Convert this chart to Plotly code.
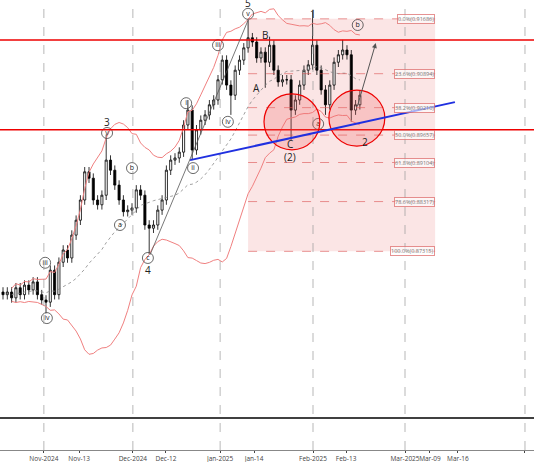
import plotly.graph_objects as go
import pandas as pd

closes = [0.8650,0.8655,0.8644,0.8663,0.8650,0.8668,0.8659,0.8674,0.8650,0.8640,
          0.8636,0.8696,0.8650,0.8711,0.8734,0.8719,0.8762,0.8790,0.8828,0.8881,
          0.8869,0.8828,0.8819,0.8837,0.8903,0.8884,0.8856,0.8828,0.8806,0.8809,
          0.8813,0.8847,0.8837,0.8781,0.8775,0.8781,0.8809,0.8828,0.8884,0.8903,
          0.8907,0.8918,0.8969,0.8997,0.8922,0.8960,0.8978,0.8988,0.9007,0.9016,
          0.9054,0.9091,0.9044,0.9025,0.9072,0.9091,0.9114,0.9133,0.9125,0.9095,
          0.9106,0.9087,0.9119,0.9072,0.9050,0.9054,0.9054,0.8997,0.9016,0.9044,
          0.9072,0.9082,0.9119,0.9072,0.9035,0.9007,0.9044,0.9087,0.9101,0.9110,
          0.9101,0.8997,0.9007,0.9025]
open0 = 0.8655
high_over = {24:0.8951, 43:0.9016, 57:0.9167, 72:0.9182, 62:0.9135, 79:0.9129}
low_over = {10:0.8615, 34:0.8726, 44:0.8903, 53:0.8988, 61:0.9039, 67:0.8941, 75:0.8988, 81:0.8975}
wick = 0.0009

tick_pos = [9.5,17.7,30.2,37.9,50.5,58.4,72.1,79.8,93.5,99.3,105.8,121.4]
tick_txt = ["Nov-2024","Nov-13","Dec-2024","Dec-12","Jan-2025","Jan-14","Feb-2025","Feb-13",
            "Mar-2025","Mar-09","Mar-16","Apr-2025"]
month_pos = [9.5,30.2,50.5,72.1,93.5,121.4]

fib_pct = [0.0,23.6,38.2,50.0,61.8,78.6,100.0]
fib_lbl = ["0.91686","0.90894","0.90210","0.89657","0.89104","0.88317","0.87315"]
fib_top, fib_bot = 0.91686, 0.87315
red_levels = [0.9129, 0.8960]
black_level = 0.8418

n = len(closes)
x = list(range(n))
opens = [open0] + closes[:-1]
highs = [high_over.get(i) or max(o, c) + wick for i, (o, c) in enumerate(zip(opens, closes))]
lows = [low_over.get(i, min(o, c) - wick) for i, (o, c) in enumerate(zip(opens, closes))]

s = pd.Series(closes)
mid = s.rolling(20, min_periods=3).mean()
sd = s.rolling(20, min_periods=3).std()
up = mid + 2.2 * sd
lo = mid - 2.2 * sd

fig = go.Figure()
fig.add_shape(type="rect", x0=57, x1=100.5, y0=fib_bot, y1=fib_top,
              fillcolor="rgba(240,150,150,0.25)", line_width=0, layer="below")
for p, l in zip(fib_pct, fib_lbl):
    yv = fib_top - (fib_top - fib_bot) * p / 100
    fig.add_shape(type="line", x0=57, x1=100.5, y0=yv, y1=yv,
                  line=dict(color="rgba(220,80,80,0.6)", width=1, dash="dash"))
    fig.add_annotation(x=100.5, y=yv, text=f"{p:.1f}%({l})", showarrow=False, xanchor="right",
                       font=dict(size=5.5, color="#777"), bordercolor="rgba(220,100,100,0.7)",
                       borderwidth=1, borderpad=0, bgcolor="rgba(255,255,255,0.6)")

fig.add_trace(go.Scatter(x=x, y=up, mode="lines", line=dict(color="#f08080", width=1), hoverinfo="skip"))
fig.add_trace(go.Scatter(x=x, y=lo, mode="lines", line=dict(color="#f08080", width=1), hoverinfo="skip"))
fig.add_trace(go.Scatter(x=x, y=mid, mode="lines", line=dict(color="#888", width=0.8, dash="dot"), hoverinfo="skip"))
fig.add_trace(go.Candlestick(x=x, open=opens, high=highs, low=lows, close=closes,
                             increasing=dict(fillcolor="white", line=dict(color="black", width=0.8)),
                             decreasing=dict(fillcolor="black", line=dict(color="black", width=0.8)),
                             whiskerwidth=0))

for r in red_levels:
    fig.add_shape(type="line", xref="paper", x0=0, x1=1, y0=r, y1=r, line=dict(color="#e00", width=1.5))
fig.add_shape(type="line", xref="paper", x0=0, x1=1, y0=black_level, y1=black_level, line=dict(color="black", width=1.5))
for mp in month_pos:
    fig.add_shape(type="line", x0=mp, x1=mp, yref="paper", y0=0, y1=1, line=dict(color="#999", width=0.7, dash="dash"))
for cx, cy in [(67.2, 0.8975), (82.3, 0.8982)]:
    fig.add_shape(type="circle", x0=cx-6.5, x1=cx+6.5, y0=cy-0.00526, y1=cy+0.00526,
                  line=dict(color="#e00", width=1.2), fillcolor="rgba(240,100,100,0.25)")
fig.add_shape(type="line", x0=43.5, x1=105.1, y0=0.8903, y1=0.9012, line=dict(color="#2030e0", width=2))
fig.add_shape(type="line", x0=34.2, x1=57, y0=0.8725, y1=0.9166, line=dict(color="#555", width=0.8))
fig.add_annotation(x=86.7, y=0.9123, ax=82.3, ay=0.9001, axref="x", ayref="y", showarrow=True,
                   arrowhead=2, arrowsize=1, arrowwidth=1, arrowcolor="#555", text="")

plain = [("5",57,0.9198),("1",72.2,0.9178),("B",61,0.9139),("A",59,0.9039),("(2)",66.8,0.8908),
         ("C",66.8,0.8933),("2",84.2,0.8937),("3",24.2,0.8975),("4",33.7,0.8697)]
for t, xx, yy in plain:
    fig.add_annotation(x=xx, y=yy, text=t, showarrow=False, font=dict(size=10, color="#222"))
circ = [("v",57,0.9178),("b",82.5,0.9157),("a",73.3,0.8971),("v",24.2,0.8954),("iii",9.8,0.8710),
        ("iv",10.2,0.8606),("a",27.2,0.8781),("b",30,0.8888),("c",33.7,0.8719),("i",42.6,0.9010),
        ("ii",44.2,0.8888),("iii",50,0.9119),("iv",52.3,0.8975)]
fig.add_trace(go.Scatter(x=[c[1] for c in circ], y=[c[2] for c in circ], text=[c[0] for c in circ],
                         mode="markers+text", textposition="middle center",
                         marker=dict(symbol="circle-open", size=11, color="#444", line=dict(width=0.8)),
                         textfont=dict(size=7, color="#222"), hoverinfo="skip"))

fig.update_layout(width=534, height=462, margin=dict(l=0, r=0, t=0, b=12, autoexpand=False), showlegend=False,
                  plot_bgcolor="white", paper_bgcolor="white",
                  xaxis=dict(range=[-0.7, 123.5], tickvals=tick_pos, ticktext=tick_txt, showgrid=False,
                             rangeslider=dict(visible=False), tickfont=dict(size=6.5, color="#444"),
                             tickangle=0, automargin=False,
                             ticks="outside", ticklen=2, showline=True, linecolor="#888"),
                  yaxis=dict(range=[0.8358, 0.9204], showticklabels=False, showgrid=False, zeroline=False,
                             automargin=False))
fig.write_html("out.html", config={"displayModeBar": False},
               post_script="document.body.style.margin='0px';document.body.style.overflow='hidden';")
